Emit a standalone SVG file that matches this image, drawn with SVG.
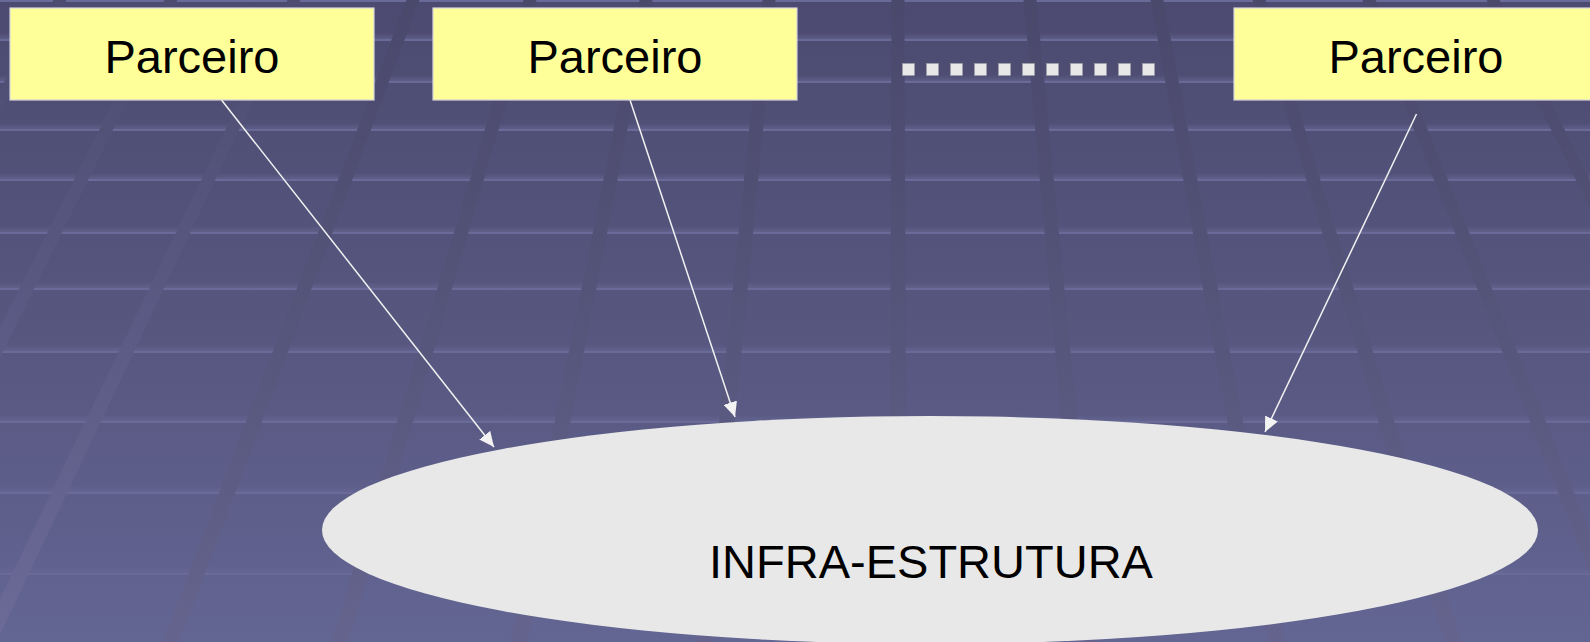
<svg xmlns="http://www.w3.org/2000/svg" width="1590" height="642" viewBox="0 0 1590 642">
  <defs>
    <style>
      .box { fill: #ffff99; stroke: #d4d4dc; stroke-width: 1.2; }
      .lbl { font-family: "Liberation Sans", Arial, sans-serif; font-size: 47px; fill: #000000; text-anchor: middle; }
      .dot { fill: #e8e8e8; stroke: #a0a0a8; stroke-width: 0.6; }
      .conn { stroke: #f2f2f2; stroke-width: 1.5; fill: none; marker-end: url(#arrow); }
      .hfade { fill: url(#fadeGrad); }
      .hline { fill: #6a6a98; }
      .band { fill: url(#bandGrad); }
      .bandL { fill: url(#bandGradL); }
    </style>
    <linearGradient id="bgGrad" x1="0" y1="0" x2="0" y2="1">
      <stop offset="0" stop-color="#4c4a70"/>
      <stop offset="0.5" stop-color="#56567f"/>
      <stop offset="1" stop-color="#636593"/>
    </linearGradient>
    <linearGradient id="fadeGrad" x1="0" y1="0" x2="0" y2="1">
      <stop offset="0" stop-color="#6a6a98" stop-opacity="0"/>
      <stop offset="1" stop-color="#6a6a98" stop-opacity="0.55"/>
    </linearGradient>
    <linearGradient id="bandGrad" gradientUnits="userSpaceOnUse" x1="0" y1="0" x2="0" y2="642">
      <stop offset="0" stop-color="#4a486b"/>
      <stop offset="0.5" stop-color="#55547a"/>
      <stop offset="1" stop-color="#65648e"/>
    </linearGradient>
    <linearGradient id="bandGradL" gradientUnits="userSpaceOnUse" x1="0" y1="0" x2="0" y2="642">
      <stop offset="0" stop-color="#4d4b70"/>
      <stop offset="0.5" stop-color="#5b5a84"/>
      <stop offset="1" stop-color="#6c6b98"/>
    </linearGradient>
    <marker id="arrow" markerUnits="userSpaceOnUse" markerWidth="16" markerHeight="14" refX="15" refY="7" orient="auto">
      <path d="M0,0 L15,7 L0,14 z" fill="#f2f2f2"/>
    </marker>
  </defs>

  <g id="background">
    <rect x="0" y="0" width="1590" height="642" fill="url(#bgGrad)"/>
    <g id="hlines">
      <rect class="hline" x="0" y="0" width="1590" height="2"/>
      <rect class="hfade" x="0" y="33" width="1590" height="6"/><rect class="hline" x="0" y="39" width="1590" height="2"/>
      <rect class="hfade" x="0" y="75" width="1590" height="6"/><rect class="hline" x="0" y="81" width="1590" height="2"/>
      <rect class="hfade" x="0" y="123" width="1590" height="6"/><rect class="hline" x="0" y="129" width="1590" height="2"/>
      <rect class="hfade" x="0" y="173" width="1590" height="6"/><rect class="hline" x="0" y="179" width="1590" height="2"/>
      <rect class="hfade" x="0" y="226" width="1590" height="6"/><rect class="hline" x="0" y="232" width="1590" height="2"/>
      <rect class="hfade" x="0" y="282" width="1590" height="6"/><rect class="hline" x="0" y="288" width="1590" height="2"/>
      <rect class="hfade" x="0" y="345" width="1590" height="6"/><rect class="hline" x="0" y="351" width="1590" height="2"/>
      <rect class="hfade" x="0" y="415" width="1590" height="6"/><rect class="hline" x="0" y="421" width="1590" height="2"/>
      <rect class="hfade" x="0" y="486" width="1590" height="6"/><rect class="hline" x="0" y="492" width="1590" height="2"/>
      <rect class="hfade" x="0" y="567" width="1590" height="6"/><rect class="hline" x="0" y="573" width="1590" height="2"/>
    </g>
    <g id="bands">
      <polygon class="bandL" points="53.5,0 66.5,0 -316.5,642 -333.5,642"/>
      <polygon class="bandL" points="164.5,0 177.5,0 -141.5,642 -158.5,642"/>
      <polygon class="bandL" points="287.5,0 300.5,0 -3.5,642 -20.5,642"/>
      <polygon class="band" points="406.5,0 419.5,0 179.5,642 162.5,642"/>
      <polygon class="band" points="523.5,0 536.5,0 348.5,642 331.5,642"/>
      <polygon class="band" points="639.5,0 652.5,0 527.5,642 510.5,642"/>
      <polygon class="band" points="762.5,0 775.5,0 713.5,642 696.5,642"/>
      <polygon class="band" points="891.5,0 904.5,0 906.5,642 889.5,642"/>
      <polygon class="band" points="1023.5,0 1036.5,0 1098.5,642 1081.5,642"/>
      <polygon class="band" points="1150.5,0 1163.5,0 1284.5,642 1267.5,642"/>
      <polygon class="band" points="1252.5,0 1265.5,0 1461.5,642 1444.5,642"/>
      <polygon class="band" points="1362.5,0 1375.5,0 1634.5,642 1617.5,642"/>
      <polygon class="band" points="1486.5,0 1499.5,0 1822.5,642 1805.5,642"/>
    </g>
  </g>

  <g id="node-infra">
    <ellipse cx="930" cy="530" rx="608" ry="114" fill="#e8e8e8"/>
    <text class="lbl" x="931" y="578">INFRA-ESTRUTURA</text>
  </g>

  <g id="connectors">
    <line class="conn" x1="221.5" y1="100" x2="494" y2="447"/>
    <line class="conn" x1="630" y1="100" x2="735" y2="417"/>
    <line class="conn" x1="1416.5" y1="114" x2="1265" y2="432"/>
  </g>

  <g id="node-parceiro-1">
    <rect class="box" x="10" y="8" width="364" height="92"/>
    <text class="lbl" x="192" y="73">Parceiro</text>
  </g>
  <g id="node-parceiro-2">
    <rect class="box" x="433" y="8" width="364" height="92"/>
    <text class="lbl" x="615" y="73">Parceiro</text>
  </g>
  <g id="node-ellipsis">
    <rect class="dot" x="902.5" y="63.5" width="12" height="12"/>
    <rect class="dot" x="926.5" y="63.5" width="12" height="12"/>
    <rect class="dot" x="950.5" y="63.5" width="12" height="12"/>
    <rect class="dot" x="974.5" y="63.5" width="12" height="12"/>
    <rect class="dot" x="998.5" y="63.5" width="12" height="12"/>
    <rect class="dot" x="1022.5" y="63.5" width="12" height="12"/>
    <rect class="dot" x="1046.5" y="63.5" width="12" height="12"/>
    <rect class="dot" x="1070.5" y="63.5" width="12" height="12"/>
    <rect class="dot" x="1094.5" y="63.5" width="12" height="12"/>
    <rect class="dot" x="1118.5" y="63.5" width="12" height="12"/>
    <rect class="dot" x="1142.5" y="63.5" width="12" height="12"/>
  </g>
  <g id="node-parceiro-3">
    <rect class="box" x="1234" y="8" width="364" height="92"/>
    <text class="lbl" x="1416" y="73">Parceiro</text>
  </g>
</svg>
